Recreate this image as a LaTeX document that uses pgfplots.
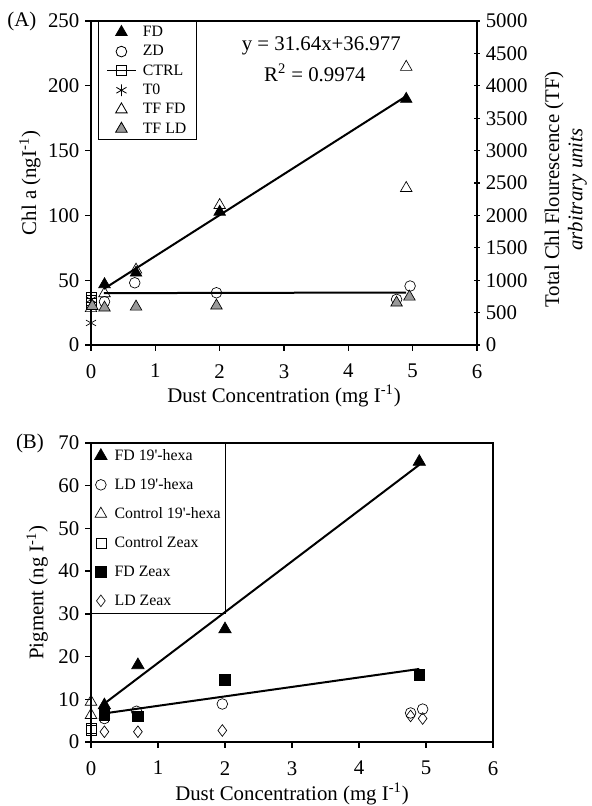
\documentclass[border=0pt]{standalone}
\usepackage{fontspec}
\setmainfont{Liberation Serif}
\usepackage{pgfplots}
\pgfplotsset{compat=1.18}

\definecolor{tfgray}{gray}{0.6}

\pgfplotsset{
  chart/.style={
    scale only axis, xmin=0, xmax=6, xtick={0,...,6},
    tick align=outside, xtick pos=left, ytick pos=left,
    major tick length=3.5pt,
    tick style={black, line width=0.8pt},
    axis line style={line width=0.8pt},
    /pgf/number format/assume math mode=true,
    /pgf/number format/set thousands separator={},
    tick label style={font=\fontsize{12.5}{14}\selectfont},
    xticklabel style={yshift=-4.5pt},
    label style={font=\fontsize{12.5}{14}\selectfont},
    clip=false,
  },
}

\begin{document}
\begin{tikzpicture}
% ---------- (A) ----------
\begin{axis}[chart,
  width=231.6pt, height=194.4pt,
  ymin=0, ymax=250, ytick={0,50,...,250},
  xlabel={Dust Concentration (mg I\textsuperscript{-1})},
  ylabel={Chl a (ngI\textsuperscript{-1})},
  xlabel style={at={(axis description cs:0.5,-0.157)}, anchor=center},
  ylabel style={at={(axis description cs:-0.158,0.5)}, anchor=center},
  legend style={at={(axis description cs:0.018,1)}, anchor=north west,
    draw=black, line width=0.5pt, inner xsep=5pt, inner ysep=1pt,
    font=\fontsize{9.5}{11}\selectfont, row sep=0.6pt,
    nodes={inner sep=1pt, text height=7pt, text depth=2pt},
    /tikz/every odd column/.append style={column sep=3pt}},
  legend cell align=left,
]
% fit lines
\addplot[black, line width=1.2pt, forget plot] coordinates {(0.2,43.3) (4.9,192.0)};
\addplot[black, line width=1.2pt, forget plot] coordinates {(0.2,40.0) (4.9,40.5)};
% FD
\addplot[only marks, mark=triangle*, mark size=4pt, black]
  coordinates {(0.21,46.8) (0.7,55.7) (2.0,102.7) (4.9,189.8)};
\addlegendentry{FD}
% ZD
\addplot[only marks, mark=o, mark size=3.2pt, black]
  coordinates {(0.21,33.4) (0.68,48.0) (1.95,40.3) (4.75,35.2) (4.96,45.5)};
\addlegendentry{ZD}
% CTRL
\addplot[only marks, mark=square, mark size=3pt, black, forget plot]
  coordinates {(0,37) (0,34.5) (0,32)};
\addlegendimage{black, line width=0.6pt, mark=square, mark size=3pt, mark options={fill=white}}
\addlegendentry{CTRL}
% T0
\addplot[only marks, mark=asterisk, mark size=3.5pt, black]
  coordinates {(0,17) (0,35)};
\addlegendentry{T0}
\addlegendimage{only marks, mark=triangle, mark size=4pt, black}
\addlegendentry{TF FD}
\addlegendimage{only marks, mark=triangle*, mark size=4pt, draw=black, fill=tfgray}
\addlegendentry{TF LD}
\node[font=\fontsize{12.5}{14}\selectfont] at (axis cs:3.58,231) {y = 31.64x+36.977};
\node[font=\fontsize{12.5}{14}\selectfont] at (axis cs:3.48,210) {R\textsuperscript{2} = 0.9974};
\node[font=\fontsize{12.5}{14}\selectfont] at (axis description cs:-0.179,1) {(A)};
\end{axis}
\begin{axis}[chart,
  width=231.6pt, height=194.4pt,
  axis x line=none, axis y line*=right,
  tick align=center, ytick pos=right,
  ymin=0, ymax=5000, ytick={0,500,...,5000},
  ylabel={Total Chl Flourescence (TF)\\\textit{arbitrary units}},
  ylabel style={align=center, at={(axis description cs:1.23,0.48)}, anchor=center},
]
% TF FD
\addplot[only marks, mark=triangle, mark size=4pt, black]
  coordinates {(0,566) (0.21,796) (0.7,1160) (2.0,2157) (4.9,4290) (4.9,2420)};
% TF LD
\addplot[only marks, mark=triangle*, mark size=4pt, draw=black, fill=tfgray]
  coordinates {(0.02,600) (0.21,575) (0.7,590) (1.95,606) (4.75,652) (4.95,744)};
\end{axis}

% ---------- (B) ----------
\begin{axis}[chart, at={(0pt,-238.2pt)},
  width=241.2pt, height=179.4pt,
  ymin=0, ymax=70, ytick={0,10,...,70},
  xlabel={Dust Concentration (mg I\textsuperscript{-1})},
  ylabel={Pigment (ng I\textsuperscript{-1})},
  xlabel style={at={(axis description cs:0.5,-0.174)}, anchor=center},
  ylabel style={at={(axis description cs:-0.134,0.5)}, anchor=center},
  legend style={at={(axis description cs:0,1)}, anchor=north west,
    draw=none, fill=none, inner xsep=2pt, inner ysep=2pt,
    font=\fontsize{9.5}{11}\selectfont, row sep=6.4pt,
    nodes={inner sep=1pt, text height=7pt, text depth=2pt},
    /tikz/every odd column/.append style={column sep=3.5pt}},
  legend cell align=left,
  legend image code/.code={\draw[mark repeat=2,mark phase=2] plot coordinates {(0cm,0cm) (0.16cm,0cm) (0.32cm,0cm)};},
]
\draw[line width=0.5pt] (axis cs:0,30) -| (axis cs:2,70);
\addplot[black, line width=1.2pt, forget plot] coordinates {(0.2,9.0) (4.9,64.9)};
\addplot[black, line width=1.2pt, forget plot] coordinates {(0.2,6.7) (4.9,17.1)};
\addplot[only marks, mark=triangle*, mark size=4.3pt, black]
  coordinates {(0.2,8.6) (0.7,18.0) (2.0,26.4) (4.9,65.6)};
\addlegendentry{FD 19\textquotesingle-hexa}
\addplot[only marks, mark=o, mark size=3.2pt, black]
  coordinates {(0.2,5.5) (0.68,7.2) (1.96,8.9) (4.77,6.8) (4.95,7.7)};
\addlegendentry{LD 19\textquotesingle-hexa}
\addplot[only marks, mark=triangle, mark size=4pt, black]
  coordinates {(0,9.4) (0,6.3)};
\addlegendentry{Control 19\textquotesingle-hexa}
\addplot[only marks, mark=square, mark size=3pt, black]
  coordinates {(0,3.1) (0,2.8)};
\addlegendentry{Control Zeax}
\addplot[only marks, mark=square*, mark size=3.2pt, black]
  coordinates {(0.2,6.3) (0.7,6.0) (2.0,14.6) (4.9,15.7)};
\addlegendentry{FD Zeax}
\addplot[only marks, mark=diamond, mark size=3.5pt, black]
  coordinates {(0.2,2.4) (0.7,2.4) (1.96,2.7) (4.77,6.1) (4.95,5.5)};
\addlegendentry{LD Zeax}
\node[font=\fontsize{12.5}{14}\selectfont] at (axis description cs:-0.152,1) {(B)};
\end{axis}
\pgfresetboundingbox
\path (-54.6pt,207pt) rectangle (300pt,-276.6pt);
\end{tikzpicture}
\end{document}
